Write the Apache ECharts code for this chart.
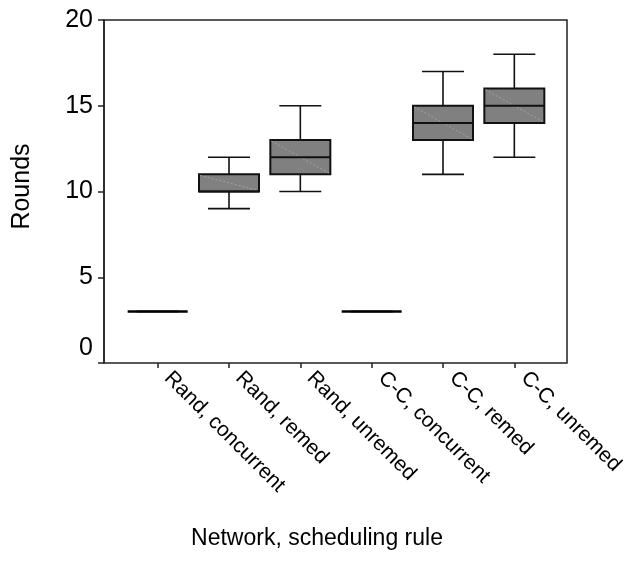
<!DOCTYPE html>
<html>
<head>
<meta charset="utf-8">
<script src="https://cdn.jsdelivr.net/npm/echarts@6/dist/echarts.min.js"></script>
<style>
  html, body { margin: 0; padding: 0; background: #fff; }
  #chart { width: 634px; height: 563px; }
</style>
</head>
<body>
<div id="chart"></div>
<script>
// ---- data ----
const categories = ['Rand, concurrent', 'Rand, remed', 'Rand, unremed', 'C-C, concurrent', 'C-C, remed', 'C-C, unremed'];
const mins    = [3, 9, 10, 3, 11, 12];
const q1s     = [3, 10, 11, 3, 13, 14];
const medians = [3, 10, 12, 3, 14, 15];
const q3s     = [3, 11, 13, 3, 15, 16];
const maxs    = [3, 12, 15, 3, 17, 18];
const yMin = 0, yMax = 20, yInterval = 5;
const xTitle = 'Network, scheduling rule';
const yTitle = 'Rounds';

const boxData = categories.map((c, i) => [i, mins[i], q1s[i], medians[i], q3s[i], maxs[i]]);

const FONT = '"Liberation Sans", Arial, sans-serif';
const chart = echarts.init(document.getElementById('chart'), null, { renderer: 'canvas' });

function renderBox(params, api) {
  const x = api.value(0);
  const pMin = api.coord([x, api.value(1)]);
  const pQ1 = api.coord([x, api.value(2)]);
  const pMed = api.coord([x, api.value(3)]);
  const pQ3 = api.coord([x, api.value(4)]);
  const pMax = api.coord([x, api.value(5)]);
  const cx = pMin[0];
  const bw = 60, ww = 42;
  const lineStyle = { stroke: '#111', lineWidth: 1.6 };
  const children = [];
  children.push({ type: 'line', shape: { x1: cx, y1: pMax[1], x2: cx, y2: pQ3[1] }, style: lineStyle });
  children.push({ type: 'line', shape: { x1: cx, y1: pQ1[1], x2: cx, y2: pMin[1] }, style: lineStyle });
  children.push({ type: 'line', shape: { x1: cx - ww / 2, y1: pMax[1], x2: cx + ww / 2, y2: pMax[1] }, style: lineStyle });
  children.push({ type: 'line', shape: { x1: cx - ww / 2, y1: pMin[1], x2: cx + ww / 2, y2: pMin[1] }, style: lineStyle });
  const h = pQ1[1] - pQ3[1];
  if (h > 0.5) {
    children.push({ type: 'rect', shape: { x: cx - bw / 2, y: pQ3[1], width: bw, height: h },
      style: { fill: '#808080', stroke: '#111', lineWidth: 2 } });
    children.push({ type: 'line', shape: { x1: cx - bw / 2 + 1, y1: pQ3[1] + 1, x2: cx + bw / 2 - 1, y2: pQ1[1] - 1 },
      style: { stroke: '#b0b0b0', lineWidth: 0.7, lineDash: [2, 2] } });
    children.push({ type: 'line', shape: { x1: cx - bw / 2, y1: pMed[1], x2: cx + bw / 2, y2: pMed[1] },
      style: { stroke: '#111', lineWidth: 2 } });
  } else {
    children.push({ type: 'line', shape: { x1: cx - bw / 2, y1: pMed[1], x2: cx + bw / 2, y2: pMed[1] },
      style: { stroke: '#000', lineWidth: 2.6 } });
  }
  return { type: 'group', children: children };
}

const option = {
  backgroundColor: '#fff',
  animation: false,
  grid: [
    { left: 104, right: 67, top: 20, bottom: 200, show: true, borderColor: '#222', borderWidth: 1.5, backgroundColor: 'transparent' },
    { left: 122, right: 84, top: 20, bottom: 200 }
  ],
  xAxis: [
    { gridIndex: 0, type: 'value', min: 0, max: 1, show: false },
    {
      gridIndex: 1, type: 'category', data: categories,
      boundaryGap: true,
      axisLine: { show: false },
      axisTick: { show: true, alignWithLabel: true, length: 5, lineStyle: { color: '#222', width: 1.5 } },
      axisLabel: { rotate: -45, fontSize: 21, color: '#000', fontFamily: FONT, margin: 2, interval: 0, padding: [0, 0, 0, 14] },
      name: xTitle, nameLocation: 'middle', nameGap: 164,
      nameTextStyle: { fontSize: 23, color: '#000', fontFamily: FONT, padding: [0, 38, 0, 0] }
    }
  ],
  yAxis: [
    {
      gridIndex: 0, type: 'value', min: yMin, max: yMax, interval: yInterval,
      axisLine: { show: true, lineStyle: { color: '#222', width: 1.5 } },
      axisTick: { show: true, length: 6, lineStyle: { color: '#222', width: 1.5 } },
      splitLine: { show: false },
      axisLabel: {
        fontSize: 25, color: '#000', fontFamily: FONT, margin: 11,
        formatter: function (v) { return v === 0 ? '{z|0}' : String(v); },
        rich: { z: { fontSize: 25, color: '#000', fontFamily: FONT, padding: [0, 0, 30, 0] } }
      },
      name: yTitle, nameLocation: 'middle', nameGap: 69,
      nameTextStyle: { fontSize: 25, color: '#000', fontFamily: FONT, padding: [0, 0, 0, 10] }
    },
    { gridIndex: 1, type: 'value', min: yMin, max: yMax, show: false }
  ],
  series: [{
    type: 'custom',
    xAxisIndex: 1, yAxisIndex: 1,
    renderItem: renderBox,
    encode: { x: 0, y: [1, 2, 3, 4, 5] },
    data: boxData,
    clip: false
  }]
};
chart.setOption(option);
</script>
</body>
</html>
